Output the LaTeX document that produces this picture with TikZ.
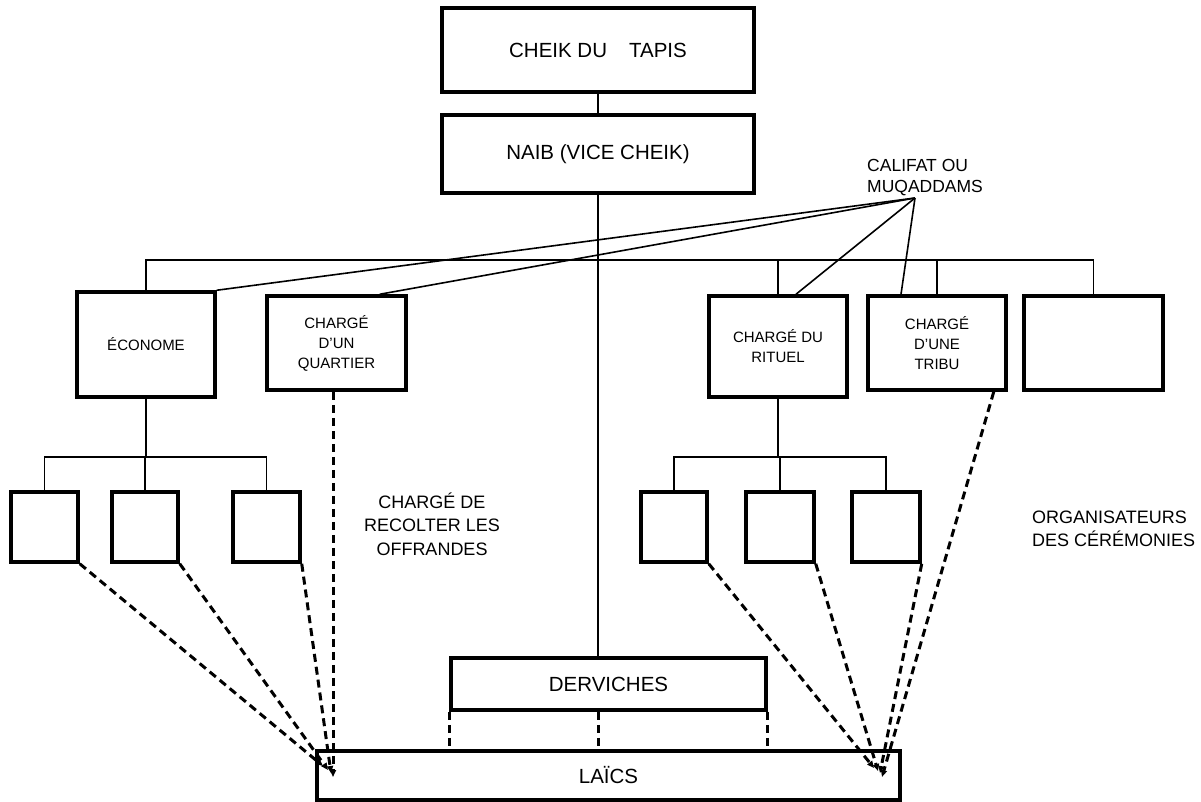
\documentclass[tikz,border=0pt]{standalone}
\usepackage{fontspec}
\setmainfont{Liberation Sans}
\usetikzlibrary{arrows.meta}
\begin{document}
\begin{tikzpicture}[x=1pt,y=-1pt,
  box/.style={draw, line width=3.5pt, inner sep=0pt, align=center},
  bigbox/.style={box, font=\fontsize{20.5}{24}\selectfont},
  smallbox/.style={box, font=\fontsize{15}{20}\selectfont},
  link/.style={line width=1.6pt},
  dotlink/.style={line width=3pt, dash pattern=on 8pt off 5pt},
  tip/.style={-{Triangle[length=7pt,width=6pt]}},
  note/.style={font=\fontsize{18}{23.5}\selectfont, inner sep=0pt},
  smallnote/.style={font=\fontsize{17.5}{21}\selectfont, inner sep=0pt}]
\useasboundingbox (0,0) rectangle (1201,802);

% head of the order
\node[bigbox, minimum width=312pt, minimum height=84pt] (cheik) at (598,50) {CHEIK DU\hspace{22pt}TAPIS};
\node[bigbox, minimum width=312pt, minimum height=78pt] (naib) at (598,154) {NAIB (VICE CHEIK)};

% second level
\node[smallbox, minimum width=138pt, minimum height=105pt] (econome) at (146,344.5) {ÉCONOME};
\node[smallbox, minimum width=139pt, minimum height=94pt] (quartier) at (336.5,343) {CHARGÉ\\D’UN\\QUARTIER};
\node[smallbox, minimum width=138pt, minimum height=101pt] (rituel) at (778,346.5) {CHARGÉ DU\\RITUEL};
\node[smallbox, minimum width=138pt, minimum height=94pt] (tribu) at (937,343) {CHARGÉ\\D’UNE\\TRIBU};
\node[smallbox, minimum width=139pt, minimum height=94pt] (empty) at (1093.5,343) {};

% third level
\node[smallbox, minimum width=67pt, minimum height=70pt] (s1) at (44.5,527) {};
\node[smallbox, minimum width=66pt, minimum height=70pt] (s2) at (145,527) {};
\node[smallbox, minimum width=67pt, minimum height=70pt] (s3) at (266.5,527) {};
\node[smallbox, minimum width=66pt, minimum height=70pt] (s4) at (674,527) {};
\node[smallbox, minimum width=68pt, minimum height=70pt] (s5) at (780,527) {};
\node[smallbox, minimum width=68pt, minimum height=70pt] (s6) at (886,527) {};

% base
\node[bigbox, minimum width=315pt, minimum height=52pt] (derviches) at (608.5,684) {DERVICHES};
\node[bigbox, minimum width=583pt, minimum height=49pt] (laics) at (608.5,775.5) {LAÏCS};

% free labels
\node[smallnote, align=left, anchor=west] (califat) at (867,178) {CALIFAT OU\\MUQADDAMS};
\node[note, align=center] (recolter) at (432,524) {CHARGÉ DE\\RECOLTER LES\\OFFRANDES};
\node[note, align=left, anchor=west] (organ) at (1032,529) {ORGANISATEURS\\DES CÉRÉMONIES};

% junction points
\coordinate (barL) at (146,260);
\coordinate (barR) at (1093.5,260);
\coordinate (barA) at (0,457);
\coordinate (cal) at (915,198);
\coordinate (lt) at (333,777);
\coordinate (lt1) at (323,766);
\coordinate (lt2) at (328,770);
\coordinate (lt3) at (331,773);
\coordinate (rt) at (882,777);
\coordinate (rt1) at (874,768);
\coordinate (rt2) at (878,771);
\coordinate (rt3) at (880,773);

% main hierarchy
\draw[link] (cheik) -- (naib);
\draw[link] (naib.south) -- (naib.south |- derviches.north);
\draw[link] (econome.north) -- (barL) -- (barR) -- (empty.north);
\draw[link] (rituel.north |- barL) -- (rituel.north);
\draw[link] (tribu.north |- barL) -- (tribu.north);

% sub-branches
\draw[link] (econome.south) -- (econome.south |- barA);
\draw[link] (s1.north) -- (s1.north |- barA) -- (s3.north |- barA) -- (s3.north);
\draw[link] (s2.north |- barA) -- (s2.north);
\draw[link] (rituel.south) -- (rituel.south |- barA);
\draw[link] (s4.north) -- (s4.north |- barA) -- (s6.north |- barA) -- (s6.north);
\draw[link] (s5.north |- barA) -- (s5.north);

% califat links
\draw[link] (cal) -- (econome.north east);
\draw[link] (cal) -- ([xshift=-28pt]quartier.north east);
\draw[link] (cal) -- ([xshift=18pt]rituel.north);
\draw[link] (cal) -- ([xshift=-36pt]tribu.north);

% dashed links to the laity
\draw[dotlink, tip] (s1.south east) -- (lt1);
\draw[dotlink, tip] (s2.south east) -- (lt2);
\draw[dotlink, tip] (s3.south east) -- (lt3);
\draw[dotlink, tip] (quartier.south -| lt) -- (lt);
\draw[dotlink, tip] (s4.south east) -- (rt1);
\draw[dotlink, tip] (s5.south east) -- (rt2);
\draw[dotlink, tip] (s6.south east) -- (rt3);
\draw[dotlink, tip] ([xshift=-14pt]tribu.south east) -- (rt);

\draw[dotlink] (derviches.south west) -- (derviches.south west |- laics.north);
\draw[dotlink] (naib.south |- derviches.south) -- (naib.south |- laics.north);
\draw[dotlink] (derviches.south east) -- (derviches.south east |- laics.north);
\end{tikzpicture}
\end{document}
